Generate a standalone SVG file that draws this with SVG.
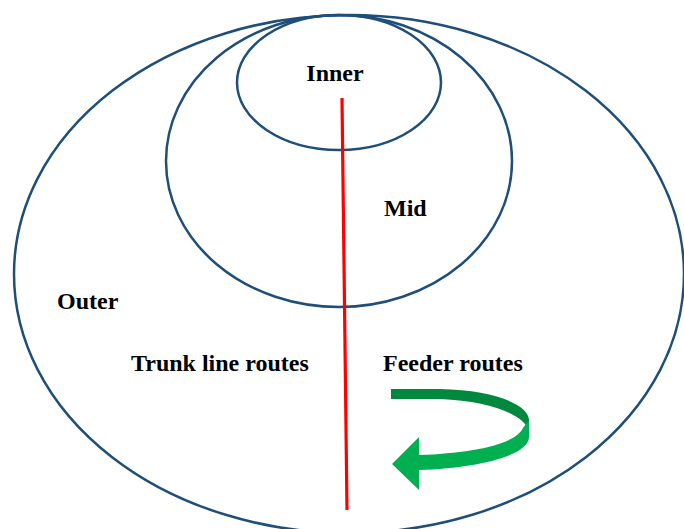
<svg xmlns="http://www.w3.org/2000/svg" width="684" height="529" viewBox="0 0 684 529">
<style>
.ring{fill:none;stroke:#1F4E79;stroke-width:2.5}
.lbl{font-family:"Liberation Serif","Times New Roman",serif;font-weight:bold;font-size:24px;fill:#000}
</style>
<rect width="684" height="529" fill="#fff"/>
<g id="outer"><ellipse class="ring" cx="349" cy="274" rx="335" ry="259"/><text class="lbl" x="57" y="309">Outer</text></g>
<g id="mid"><ellipse class="ring" cx="339" cy="161" rx="173" ry="146"/><text class="lbl" x="384" y="216">Mid</text></g>
<g id="inner"><ellipse class="ring" cx="339" cy="82.5" rx="102" ry="67.5"/><text class="lbl" x="335" y="81" text-anchor="middle">Inner</text></g>
<g id="trunk"><text class="lbl" x="131" y="371">Trunk line routes</text></g>
<g id="feeder"><text class="lbl" x="383" y="371">Feeder routes</text></g>
<g id="connectors">
<line x1="342" y1="98" x2="347" y2="510" stroke="#FF0000" stroke-width="3.2"/>
<path d="M391,389 L440,389 C495,390 529,405 529,420 L529,430 C522,414 490,401 440,399 L391,399 Z" fill="#00893E"/>
<path d="M529,420 L529,437 C529,455 480,468 419,470 L419,490 L392,464 L419,437 L419,455 C470,453 515,445 523,428 Z" fill="#00B050"/>
</g>
</svg>
